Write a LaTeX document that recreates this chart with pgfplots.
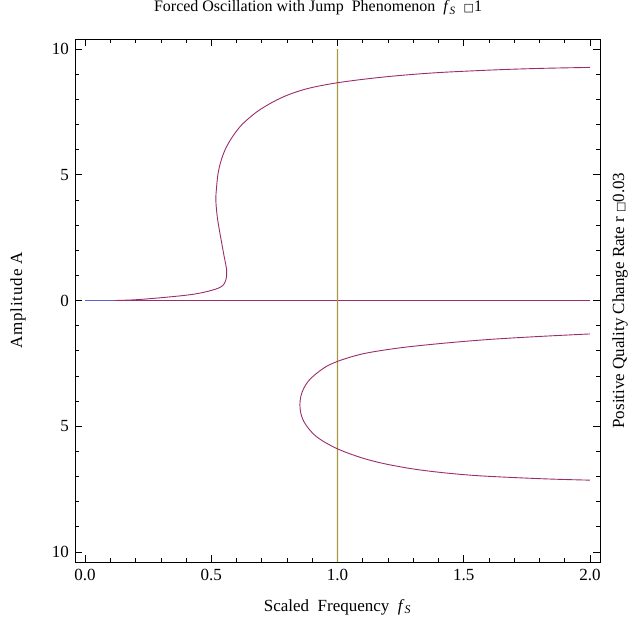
\documentclass[border=0pt]{standalone}
\usepackage{pgfplots}
\pgfplotsset{compat=1.18}
\usepackage{fontspec}
\setmainfont{Liberation Serif}
\newfontfamily\symfont{DejaVu Sans}
\definecolor{curvecol}{RGB}{155,45,110}
\definecolor{zerocol}{RGB}{95,95,205}
\definecolor{olivecol}{RGB}{168,152,70}
\newcommand\fs{\fontsize{16bp}{19bp}\selectfont}
\newcommand\fl{\fontsize{17bp}{20bp}\selectfont}
\newcommand\fS{\textit{f}\textsubscript{\textit{S}}}
\begin{document}
\begin{tikzpicture}
\useasboundingbox (-75bp,-63bp) rectangle (560bp,562bp);
\begin{axis}[
  at={(0,0)}, anchor=south west,
  scale only axis, width=525bp, height=523bp,
  xmin=-0.04, xmax=2.04, ymin=-10.4, ymax=10.4,
  xtick={0,0.5,1,1.5,2}, xticklabels={0.0,0.5,1.0,1.5,2.0},
  ytick={-10,-5,0,5,10}, yticklabels={10,5,0,5,10},
  minor x tick num=4, minor y tick num=4,
  tick align=inside, major tick length=7bp, minor tick length=4bp,
  xtick pos=both, ytick pos=both,
  xticklabel pos=bottom, yticklabel pos=left,
  axis line style={line width=0.8bp},
  every tick/.style={black, line width=0.6bp},
  tick label style={font=\fl},
  yticklabel style={xshift=-2.5bp},
  xticklabel style={yshift=-3.5bp},
  title={Forced Oscillation with Jump\ \ Phenomenon\ \ \fS\ \ {\symfont\fontsize{11bp}{11bp}\selectfont □}1},
  title style={at={(axis description cs:0.463,1.048)}, anchor=center, font=\fs},
  xlabel={Scaled\ \ Frequency\ \ \fS},
  xlabel style={at={(axis description cs:0.5,-0.086)}, anchor=center, font=\fl},
  ylabel={\addfontfeature{LetterSpace=5}Amplitude A},
  ylabel style={at={(axis description cs:-0.1086,0.5)}, anchor=center, font=\fl},
  clip=false,
]
\addplot[draw=zerocol, line width=0.9bp] coordinates {(0,0) (2,0)};
\addplot[draw=curvecol, line width=0.9bp] coordinates {(0.12,0) (2,0)};
\addplot[draw=olivecol, line width=1.2bp, forget plot] table {
x y
0.9999 10.0
1.0001 -10.4
};
% upper branch (S-shaped)
\addplot[draw=curvecol, line width=0.9bp, smooth, tension=0.55] coordinates {
(0.12,0.0) (0.2,0.03) (0.3,0.11) (0.4,0.21) (0.453,0.29) (0.5,0.40)
(0.53,0.5) (0.548,0.62) (0.557,0.8) (0.561,1.0) (0.561,1.2) (0.557,1.45)
(0.55,1.8) (0.541,2.3) (0.532,2.8) (0.524,3.3) (0.519,3.8) (0.518,4.1)
(0.520,4.4) (0.526,5.0) (0.537,5.5) (0.555,6.0) (0.583,6.5) (0.622,7.0)
(0.680,7.5) (0.745,7.9) (0.81,8.2) (0.89,8.45) (1.0,8.66) (1.13,8.83)
(1.26,8.96) (1.41,9.07) (1.62,9.17) (1.8,9.23) (2.0,9.27)};
% lower branch (C-shaped)
\addplot[draw=curvecol, line width=0.9bp, smooth, tension=0.55] coordinates {
(2.0,-1.33) (1.8,-1.43) (1.6,-1.55) (1.42,-1.7) (1.25,-1.88) (1.11,-2.1)
(1.02,-2.35) (0.96,-2.6) (0.917,-2.9) (0.885,-3.2) (0.866,-3.5)
(0.855,-3.8) (0.851,-4.15) (0.855,-4.5) (0.866,-4.8) (0.886,-5.1)
(0.915,-5.4) (0.952,-5.65) (1.0,-5.9) (1.05,-6.1) (1.11,-6.3) (1.19,-6.5)
(1.30,-6.7) (1.42,-6.85) (1.56,-6.97) (1.74,-7.06) (1.87,-7.11) (2.0,-7.145)};
\node[rotate=90, anchor=center, font=\fl] at (axis description cs:1.038,0.5)
  {Positive Quality Change Rate r {\symfont\fontsize{11bp}{11bp}\selectfont □}0.03};
\end{axis}
\end{tikzpicture}
\end{document}
